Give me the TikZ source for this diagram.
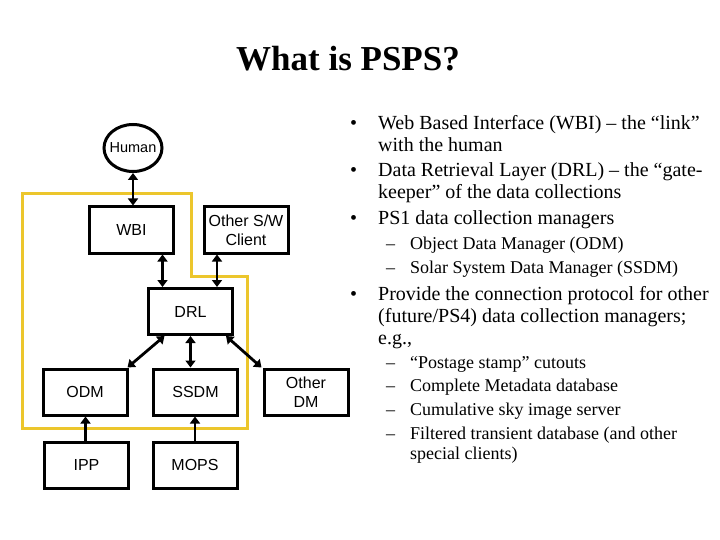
\documentclass[tikz,border=0pt]{standalone}
\usepackage{fontspec}
\setmainfont{Liberation Serif}
\newfontfamily\boxfont{Liberation Sans}
\usetikzlibrary{positioning, arrows.meta, shapes.geometric}
\definecolor{frameyellow}{RGB}{236,198,44}

\begin{document}
\begin{tikzpicture}[
    x=1pt, y=-1pt,
    box/.style={draw, line width=3pt, minimum width=84pt, minimum height=46pt, inner sep=0pt, font=\boxfont\fontsize{16}{19}\selectfont, align=center},
    dbl/.style={line width=2.8pt, {Triangle[length=7pt,width=10pt]}-{Triangle[length=7pt,width=10pt]}},
    feed/.style={line width=2.8pt, -{Triangle[length=7pt,width=10pt]}},
    item/.style={anchor=base west, inner sep=0pt, align=left, font=\fontsize{20}{22}\selectfont},
    subitem/.style={anchor=base west, inner sep=0pt, align=left, font=\fontsize{18}{20}\selectfont}
]
    \useasboundingbox (0,0) rectangle (720,540);

    % Title
    \node[anchor=base, inner sep=0pt, font=\bfseries\fontsize{35}{40}\selectfont] (title) at (348,71) {What is PSPS?};

    % PSPS boundary
    \draw[frameyellow, line width=3pt, line join=miter]
        (22,194) -- (191,194) -- (191,276) -- (247,276) -- (247,428) -- (22,428) -- cycle;

    % Components
    \node[draw, ellipse, line width=3pt, minimum width=58pt, minimum height=47pt, inner xsep=-3pt, inner ysep=0pt,
          font=\boxfont\fontsize{14.5}{16}\selectfont] (human) at (133,148) {Human};
    \node[box] (wbi) at (131.5,230) {WBI};
    \node[box] (client) at (246,230) {Other S/W\\Client};
    \node[box] (drl) at (190.5,311.5) {DRL};
    \node[box] (odm) at (85,392) {ODM};
    \node[box] (ssdm) at (195.5,392) {SSDM};
    \node[box] (otherdm) at (306,392) {Other\\DM};
    \node[box] (ipp) at (86.5,465) {IPP};
    \node[box] (mops) at (195,465) {MOPS};

    % Links
    \draw[dbl] (human.south) -- (human.south |- wbi.north);
    \draw[dbl] ([xshift=-28pt]drl.north) -- ([xshift=-28pt]drl.north |- wbi.south);
    \draw[dbl] ([xshift=26.5pt]drl.north) -- ([xshift=26.5pt]drl.north |- client.south);
    \draw[dbl] ([xshift=-26pt]drl.south) -- ([xshift=-1pt]odm.north east);
    \draw[dbl] (drl.south) -- (drl.south |- ssdm.north);
    \draw[dbl] ([xshift=35.5pt]drl.south) -- ([xshift=-1pt]otherdm.north west);
    \draw[feed] ([xshift=-1pt]ipp.north) -- ([xshift=-1pt]ipp.north |- odm.south);
    \draw[feed] (mops.north) -- (mops.north |- ssdm.south);

    % Bullet list (a node's base is its last line)
    \node[item] (dot1) at (350,130) {\textbullet};
    \node[item] (txt1) at (378,152) {Web Based Interface (WBI) – the “link”\\with the human};
    \node[item] (dot2) at (350,177) {\textbullet};
    \node[item] (txt2) at (378,199) {Data Retrieval Layer (DRL) – the “gate-\\keeper” of the data collections};
    \node[item] (dot3) at (350,225) {\textbullet};
    \node[item] (txt3) at (378,225) {PS1 data collection managers};
    \node[subitem] (dash31) at (386,249) {–};
    \node[subitem] (sub31) at (410,249) {Object Data Manager (ODM)};
    \node[subitem] (dash32) at (386,273) {–};
    \node[subitem] (sub32) at (410,273) {Solar System Data Manager (SSDM)};
    \node[item] (dot4) at (350,300) {\textbullet};
    \node[item] (txt4) at (378,344) {Provide the connection protocol for other\\(future/PS4) data collection managers;\\e.g.,};
    \node[subitem] (dash41) at (386,368) {–};
    \node[subitem] (sub41) at (410,368) {“Postage stamp” cutouts};
    \node[subitem] (dash42) at (386,391) {–};
    \node[subitem] (sub42) at (410,391) {Complete Metadata database};
    \node[subitem] (dash43) at (386,415) {–};
    \node[subitem] (sub43) at (410,415) {Cumulative sky image server};
    \node[subitem] (dash44) at (386,439) {–};
    \node[subitem] (sub44) at (410,459) {Filtered transient database (and other\\special clients)};
\end{tikzpicture}
\end{document}
